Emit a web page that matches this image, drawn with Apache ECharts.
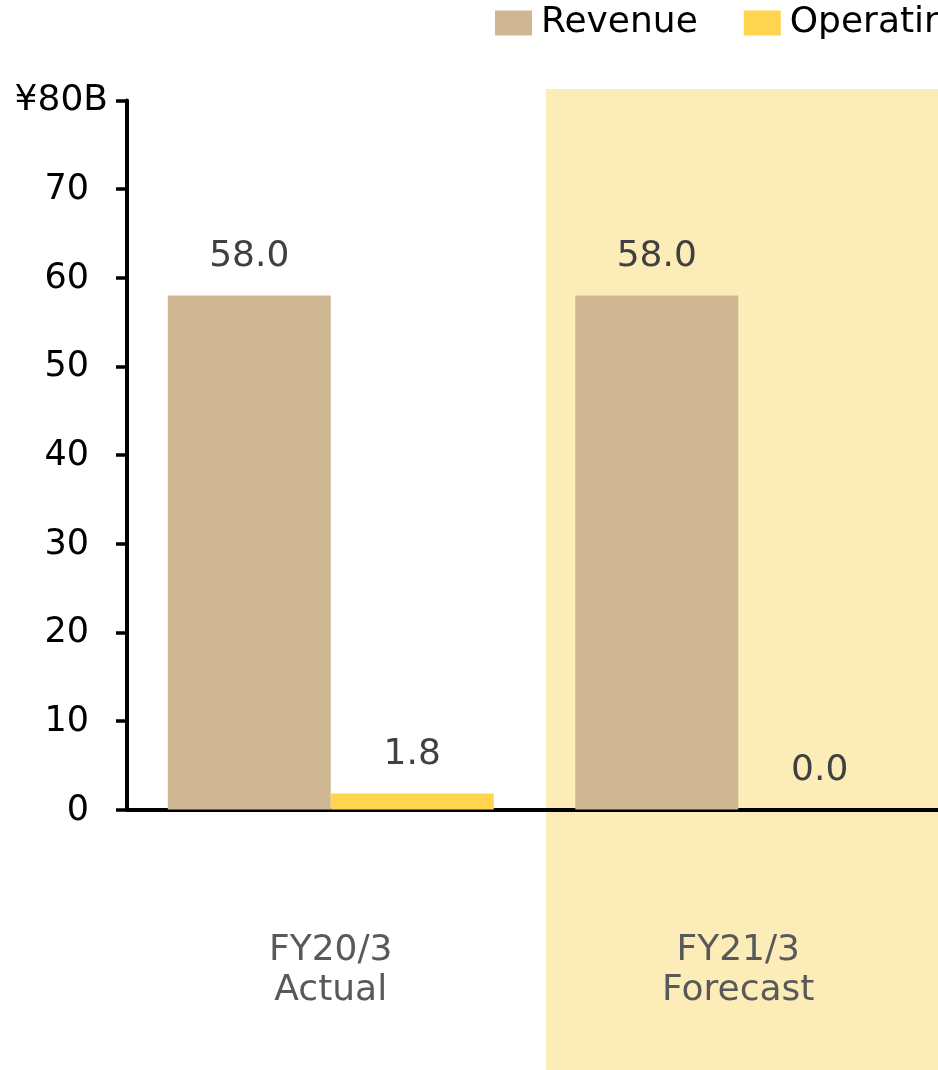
<!DOCTYPE html>
<html>
<head>
<meta charset="utf-8">
<script src="https://cdn.jsdelivr.net/npm/echarts@6/dist/echarts.min.js"></script>
<style>
  html, body { margin: 0; padding: 0; background: #ffffff; }
  #chart { width: 938px; height: 1070px; }
</style>
</head>
<body>
<div id="chart"></div>
<script>
// Fiscal-year categories and series values (¥ billions)
const categories = ['FY20/3\nActual', 'FY21/3\nForecast'];
const revenue = [58.0, 58.0];
const operatingIncome = [1.8, 0.0];
const yTicks = [0, 10, 20, 30, 40, 50, 60, 70, 80];

const FONT = '"DejaVu Sans", Verdana, sans-serif';

const chart = echarts.init(document.getElementById('chart'));

chart.setOption({
  backgroundColor: '#ffffff',
  animation: false,
  graphic: [
    {
      // shaded band behind the forecast year
      type: 'rect',
      z: -10,
      zlevel: 0,
      silent: true,
      shape: { x: 546, y: 89, width: 400, height: 990 },
      style: { fill: '#FCECB7' }
    }
  ],
  legend: {
    left: 495,
    top: 5,
    width: 1000,
    padding: 0,
    itemWidth: 37,
    itemHeight: 25,
    itemGap: 46,
    icon: 'rect',
    textStyle: { fontFamily: FONT, fontSize: 36, color: '#000000', padding: [2, 0, 0, 4] },
    data: ['Revenue', 'Operating income']
  },
  grid: {
    left: 127,
    width: 815,
    top: 100.5,
    bottom: 260.5,
    containLabel: false,
    outerBoundsMode: 'none'
  },
  xAxis: {
    type: 'category',
    data: categories,
    axisLine: { show: true, lineStyle: { color: '#000000', width: 4 } },
    axisTick: { show: false },
    axisLabel: {
      margin: 121,
      fontFamily: FONT,
      fontSize: 36,
      lineHeight: 40,
      color: '#595959'
    }
  },
  yAxis: {
    type: 'value',
    min: 0,
    max: 80,
    interval: 10,
    splitLine: { show: false },
    axisLine: { show: true, lineStyle: { color: '#000000', width: 4 } },
    axisTick: { show: true, length: 11, lineStyle: { color: '#000000', width: 3.5 } },
    axisLabel: {
      margin: 19,
      fontFamily: FONT,
      fontSize: 35,
      color: '#000000',
      formatter: function (v) {
        if (v === yTicks[yTicks.length - 1]) return '{top|¥' + v + 'B}';
        return '{n|' + v + '}';
      },
      rich: {
        top: { fontFamily: FONT, fontSize: 36, color: '#000000' },
        n: { fontFamily: FONT, fontSize: 35, color: '#000000', padding: [2, 19, 0, 0] }
      }
    }
  },
  series: [
    {
      name: 'Revenue',
      type: 'bar',
      data: revenue,
      barWidth: 163,
      barGap: '0%',
      itemStyle: { color: '#CFB794' },
      label: {
        show: true,
        position: 'top',
        distance: 21,
        fontFamily: FONT,
        fontSize: 36,
        color: '#404040',
        formatter: p => p.value.toFixed(1)
      }
    },
    {
      name: 'Operating income',
      type: 'bar',
      data: operatingIncome,
      barWidth: 163,
      barGap: '0%',
      itemStyle: { color: '#FFD54F' },
      label: {
        show: true,
        position: 'top',
        distance: 21,
        fontFamily: FONT,
        fontSize: 36,
        color: '#404040',
        formatter: p => p.value.toFixed(1)
      }
    }
  ]
});
</script>
</body>
</html>
